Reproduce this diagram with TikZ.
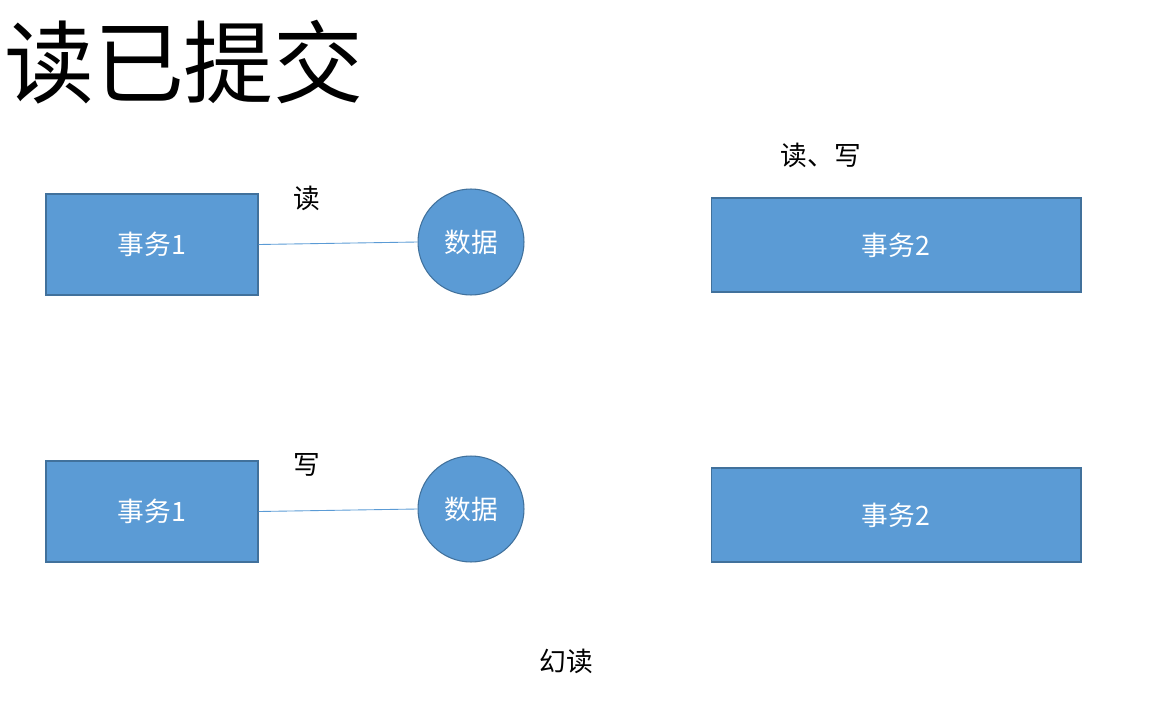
\documentclass[tikz,border=0pt]{standalone}
\usepackage{fontspec}
\setmainfont{Noto Sans CJK SC}
\usetikzlibrary{positioning}
\definecolor{boxfill}{HTML}{5B9BD5}
\definecolor{boxline}{HTML}{41719C}
\begin{document}
\begin{tikzpicture}[x=0.02cm,y=-0.02cm,every node/.style={font=\fontsize{15.2}{18}\selectfont},trans/.style={draw=boxline,fill=boxfill,line width=0.6pt,text=white,inner sep=0pt},data/.style={circle,draw=boxline,fill=boxfill,line width=0.6pt,text=white,minimum size=2.12cm,inner sep=0pt},link/.style={boxfill,line width=0.5pt}]
\useasboundingbox (0,0) rectangle (1173,703);
\node[font=\fontsize{51.2}{58}\selectfont] (title) at (184,62) {读已提交};
% upper row: read
\node[trans,minimum width=4.24cm,minimum height=2.02cm] (t1a) at (152,244.5) {事务1};
\node[data] (da) at (471,242) {数据};
\node[trans,minimum width=7.4cm,minimum height=1.88cm] (t2a) at (896,245) {事务2};
\draw[link] (t1a.east) -- (da.west);
\node (ra) at (307,198) {读};
\node (rwa) at (821,155) {读、写};
% lower row: write
\node[trans,minimum width=4.24cm,minimum height=2.02cm] (t1b) at (152,511.5) {事务1};
\node[data] (db) at (471,509) {数据};
\node[trans,minimum width=7.4cm,minimum height=1.88cm] (t2b) at (896,515) {事务2};
\draw[link] (t1b.east) -- (db.west);
\node (wb) at (307,465) {写};
\node (ph) at (566,661) {幻读};
\end{tikzpicture}
\end{document}
